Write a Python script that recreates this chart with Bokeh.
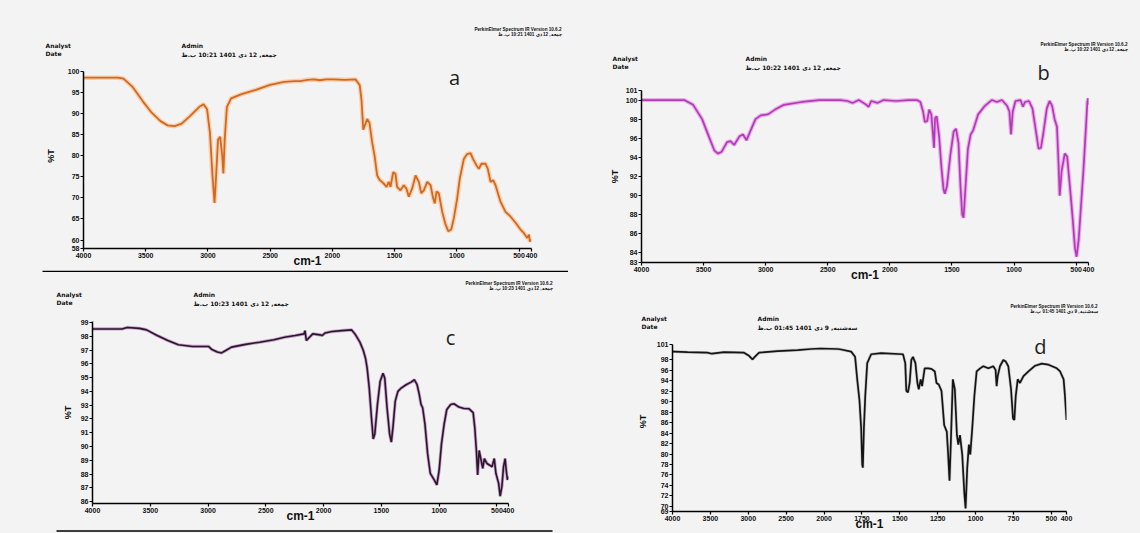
import numpy as np
from bokeh.plotting import figure
from bokeh.models import Range1d, FixedTicker, Label
from bokeh.layouts import row, column
from bokeh.embed import file_html
from bokeh.resources import INLINE

# ---------------- data (wavenumber cm-1, %T) ----------------
a_wn = [4000, 3830, 3722, 3679, 3608, 3523, 3452, 3381, 3324, 3268, 3211, 3140, 3069, 3035, 3007,
        2984, 2964, 2947, 2933, 2919, 2902, 2885, 2876, 2865, 2848, 2814, 2729, 2615, 2501, 2388,
        2300, 2256, 2200, 2149, 2100, 2050, 1988, 1900, 1814, 1780, 1766, 1752, 1742, 1720, 1702,
        1680, 1661, 1640, 1619, 1587, 1565, 1547, 1533, 1511, 1493, 1480, 1453, 1426, 1405, 1386,
        1359, 1332, 1305, 1286, 1265, 1238, 1211, 1190, 1177, 1163, 1145, 1118, 1091, 1069, 1045,
        1024, 997, 976, 944, 917, 890, 869, 842, 823, 802, 770, 751, 729, 708, 689, 649, 609, 569,
        528, 488, 462, 434, 420, 413, 405]
a_T = [98.5, 98.5, 98.5, 98.3, 96.4, 92.9, 90.2, 88.2, 87.2, 87.0, 87.6, 89.5, 91.6, 92.2, 91.0,
       85.5, 75.5, 68.8, 76.0, 83.8, 84.5, 80.0, 75.8, 84.0, 91.5, 93.6, 94.6, 95.6, 96.8, 97.5,
       97.7, 97.7, 98.0, 98.1, 97.9, 98.1, 98.1, 98.0, 98.1, 96.7, 93.2, 86.2, 87.0, 88.7, 87.8,
       83.1, 80.0, 75.3, 74.2, 73.4, 72.6, 73.8, 72.6, 76.1, 75.7, 72.6, 71.8, 73.0, 72.2, 70.3,
       72.2, 75.3, 73.8, 71.1, 71.8, 73.8, 73.0, 69.9, 68.7, 71.5, 71.1, 66.8, 63.7, 62.1, 62.5,
       65.2, 69.9, 74.6, 79.2, 80.4, 80.6, 79.2, 77.7, 76.9, 78.1, 78.1, 76.9, 73.8, 74.2, 73.0,
       69.1, 66.7, 65.6, 64.1, 62.5, 61.7, 60.5, 61.3, 59.6, 60.2]

b_wn = [4000, 3656, 3584, 3512, 3455, 3412, 3383, 3354, 3311, 3283, 3254, 3211, 3182, 3154, 3125,
        3082, 3039, 2982, 2924, 2853, 2709, 2566, 2400, 2340, 2300, 2250, 2200, 2170, 2150, 2100,
        2050, 1950, 1850, 1781, 1754, 1732, 1718, 1699, 1683, 1666, 1653, 1644, 1636, 1623, 1603,
        1584, 1568, 1557, 1540, 1513, 1486, 1467, 1447, 1431, 1417, 1406, 1390, 1371, 1349, 1330,
        1289, 1234, 1179, 1138, 1097, 1056, 1037, 1024, 1010, 988, 947, 928, 911, 879, 851, 824,
        802, 783, 764, 736, 714, 693, 673, 654, 641, 632, 616, 591, 572, 550, 528, 509, 496, 479,
        463, 441, 419, 409, 402, 400]
b_T = [100.0, 100.0, 99.5, 98.0, 96.1, 94.7, 94.4, 94.6, 95.6, 95.7, 95.3, 96.2, 96.4, 95.8, 96.7,
       98.0, 98.4, 98.5, 99.0, 99.5, 99.8, 100.0, 100.0, 99.9, 99.7, 100.0, 99.6, 99.3, 99.9, 99.7,
       100.0, 99.9, 100.0, 100.0, 99.8, 98.8, 97.7, 97.8, 99.0, 98.5, 96.5, 95.0, 98.1, 98.3, 96.2,
       92.9, 90.7, 90.2, 91.0, 94.2, 96.7, 97.0, 95.5, 91.0, 88.0, 87.7, 91.0, 94.9, 96.4, 96.8,
       98.5, 99.4, 100.0, 99.8, 100.0, 99.4, 98.8, 96.4, 98.8, 99.9, 100.0, 99.3, 99.8, 99.9, 99.1, 96.8,
       94.9, 95.0, 96.5, 99.1, 99.9, 99.4, 98.0, 97.2, 93.3, 90.0, 92.6, 94.4, 94.1, 91.0, 87.7, 84.5,
       83.6, 85.4, 88.4, 92.6, 97.5, 99.8, 100.2, 99.5]

c_wn = [4000, 3967, 3746, 3700, 3593, 3532, 3440, 3348, 3257, 3134, 2996, 2966, 2920, 2883, 2844,
        2797, 2675, 2553, 2430, 2339, 2246, 2170, 2161, 2149, 2094, 2032, 2014, 1986, 1928, 1843,
        1757, 1729, 1686, 1657, 1637, 1623, 1605, 1586, 1571, 1557, 1534, 1511, 1486, 1471, 1451,
        1429, 1414, 1400, 1380, 1357, 1329, 1286, 1243, 1214, 1191, 1172, 1157, 1143, 1123, 1100,
        1077, 1043, 1020, 1000, 980, 957, 934, 900, 872, 829, 786, 743, 706, 692, 678, 667, 654,
        637, 623, 609, 586, 563, 543, 523, 509, 486, 472, 457, 443, 429, 420, 409, 402]
c_T = [98.53, 98.53, 98.53, 98.64, 98.57, 98.46, 98.05, 97.69, 97.38, 97.26, 97.26, 97.03, 96.86,
       96.79, 96.98, 97.21, 97.41, 97.57, 97.74, 97.93, 98.05, 98.17, 98.4, 97.69, 98.17, 98.1,
       98.05, 98.24, 98.34, 98.41, 98.46, 98.17, 97.57, 96.98, 96.39, 95.67, 94.24, 92.1, 90.55,
       90.91, 93.05, 94.71, 95.31, 94.96, 92.81, 90.91, 90.31, 91.39, 93.29, 94.0, 94.24, 94.48,
       94.67, 94.84, 94.48, 93.76, 93.05, 92.81, 91.62, 89.48, 88.05, 87.57, 87.21, 88.29, 90.19,
       91.62, 92.69, 93.05, 93.1, 92.86, 92.76, 92.74, 92.46, 91.39, 89.71, 87.93, 89.71, 89.0,
       88.41, 89.12, 88.76, 88.64, 88.53, 89.12, 88.05, 87.34, 86.39, 87.1, 88.53, 89.12, 88.29,
       87.57, 87.83]

d_wn = [4000, 3983, 3800, 3540, 3480, 3320, 3056, 2990, 2944, 2914, 2857, 2613, 2348, 2172, 2050,
        1909, 1887, 1821, 1795, 1781, 1766, 1755, 1748, 1744, 1737, 1728, 1715, 1689, 1623, 1479,
        1464, 1457, 1446, 1435, 1424, 1413, 1397, 1384, 1375, 1362, 1353, 1336, 1313, 1291, 1269,
        1258, 1243, 1225, 1207, 1190, 1181, 1172, 1163, 1150, 1137, 1123, 1114, 1103, 1088, 1074,
        1066, 1055, 1044, 1035, 1022, 1008, 993, 970, 949, 916, 883, 868, 861, 854, 839, 817, 801,
        784, 766, 753, 744, 735, 722, 707, 684, 651, 607, 563, 519, 464, 442, 419, 410, 400]
d_T = [99.6, 99.6, 99.5, 99.4, 99.2, 99.5, 99.4, 98.8, 98.1, 98.6, 99.4, 99.7, 99.9, 100.1, 100.2,
       100.1, 100.0, 99.6, 98.6, 94.3, 90.2, 84.9, 78.0, 77.4, 84.9, 91.1, 97.4, 99.1, 99.3, 99.1,
       97.4, 92.1, 91.8, 93.6, 98.0, 98.6, 97.4, 93.6, 92.4, 94.3, 93.0, 96.4, 96.4, 96.3, 95.8,
       93.6, 93.3, 92.1, 85.5, 84.3, 79.9, 74.9, 82.4, 94.3, 92.4, 83.6, 81.8, 83.6, 79.9, 72.4,
       69.6, 77.4, 81.8, 79.9, 84.9, 91.1, 95.8, 96.4, 96.8, 96.4, 96.8, 96.1, 93.0, 94.9, 96.8,
       98.0, 97.7, 96.8, 92.4, 86.8, 86.5, 91.1, 94.3, 93.6, 94.9, 95.8, 96.9, 97.3, 97.1, 96.4,
       95.8, 94.3, 91.1, 86.5]

x_ticks = [4000, 3500, 3000, 2500, 2000, 1500, 1000, 500, 400]
a_yticks = [58, 60, 65, 70, 75, 80, 85, 90, 95, 100]
b_yticks = [83, 84, 86, 88, 90, 92, 94, 96, 98, 100, 101]
c_yticks = list(range(86, 100))
d_yticks = [69, 70, 72, 74, 76, 78, 80, 82, 84, 86, 88, 90, 92, 94, 96, 98, 101]
d_xticks_wn = [4000, 3500, 3000, 2500, 2000, 1750, 1500, 1250, 1000, 750, 500, 400]

date_a = "جمعه, 12 دی 1401 10:21 ب.ظ"
date_b = "جمعه, 12 دی 1401 10:22 ب.ظ"
date_c = "جمعه, 12 دی 1401 10:23 ب.ظ"
date_d = "سه‌شنبه, 9 دی 1401 01:45 ب.ظ"
version = "PerkinElmer Spectrum IR Version 10.6.2"

BG = "#f3f3f3"
HEAD_FONT = "DejaVu Sans"


def d_axis(w):
    w = np.asarray(w, dtype=float)
    return np.where(w > 2000, 2000 + (w - 2000) / 2.0, w)


def spec_fig(w, h, left, right, top, bottom, xr, yr, yticks, xticks, ylab_standoff, ybounds=None):
    p = figure(width=w, height=h, output_backend="svg", toolbar_location=None,
               x_range=Range1d(*xr), y_range=Range1d(*yr),
               min_border_left=left, min_border_right=right,
               min_border_top=top, min_border_bottom=bottom, frame_align=False)
    p.background_fill_color = BG
    p.border_fill_color = BG
    p.outline_line_color = None
    p.grid.visible = False
    for ax in (p.xaxis[0], p.yaxis[0]):
        ax.axis_line_color = "black"
        ax.axis_line_width = 1.5
        ax.major_tick_line_color = "black"
        ax.major_tick_line_width = 1.2
        ax.major_tick_in = 0
        ax.major_tick_out = 3
        ax.minor_tick_line_color = None
        ax.major_label_text_font = "Liberation Sans"
        ax.major_label_text_font_style = "bold"
        ax.major_label_text_font_size = "7px"
        ax.major_label_text_color = "#111111"
        ax.major_label_standoff = 1
        ax.axis_label_text_font = "Liberation Sans"
        ax.axis_label_text_font_style = "bold"
        ax.axis_label_text_color = "#111111"
    p.xaxis[0].ticker = FixedTicker(ticks=xticks)
    p.yaxis[0].ticker = FixedTicker(ticks=yticks)
    if ybounds is not None:
        p.yaxis[0].bounds = ybounds
    p.xaxis[0].axis_label = "cm-1"
    p.xaxis[0].axis_label_text_font_size = "12px"
    p.xaxis[0].axis_label_standoff = -7
    p.yaxis[0].axis_label = "%T"
    p.yaxis[0].axis_label_text_font_size = "9px"
    p.yaxis[0].axis_label_standoff = ylab_standoff
    return p


def blank_fig(w, h, x0, y0):
    """Strip of the page between plots; data units equal page pixels."""
    p = figure(width=w, height=h, output_backend="svg", toolbar_location=None,
               x_range=Range1d(x0, x0 + w), y_range=Range1d(y0 + h, y0),
               x_axis_type=None, y_axis_type=None, frame_align=False,
               min_border_left=0, min_border_right=0, min_border_top=0, min_border_bottom=0)
    p.background_fill_color = BG
    p.border_fill_color = BG
    p.outline_line_color = None
    return p


def header(p, ax_x, ax_y, ad_x, ad_y, tr_x, tr_y, date1, date2):
    kw = dict(text_font=HEAD_FONT, text_font_style="bold", text_font_size="6px",
              text_color="#111111", text_baseline="middle")
    p.add_layout(Label(x=ax_x, y=ax_y, text="Analyst", **kw))
    p.add_layout(Label(x=ax_x, y=ax_y + 7.5, text="Date", **kw))
    p.add_layout(Label(x=ad_x, y=ad_y, text="Admin", **kw))
    p.add_layout(Label(x=ad_x, y=ad_y + 8.5, text=date1, **kw))
    small = dict(kw, text_font="Liberation Sans", text_font_size="4.6px")
    p.add_layout(Label(x=tr_x, y=tr_y, text=version, text_align="right", **small))
    p.add_layout(Label(x=tr_x, y=tr_y + 5, text=date2, text_align="right", **small))


def letter(p, x, y, t):
    p.add_layout(Label(x=x, y=y, text=t, text_font="Open Sans", text_font_size="20px",
                       text_color="#1e1e1e", text_align="center", text_baseline="middle"))


# ================= column 1: panels a and c (x 0..568) =================
a_head = blank_fig(568, 63, 0, 0)
header(a_head, 45, 45, 181, 45, 561, 29, date_a, date_a)

# frame 63..251 px; 100 %T sits at 71 px, the axis stops there
pa = spec_fig(568, 207, 83, 37, 0, 19, (4000, 400), (58, 101.87), a_yticks, x_ticks, 9,
              ybounds=(58, 100))
pa.line(a_wn, a_T, line_color="#f7c7a0", line_width=4.5, line_alpha=0.8)
pa.line(a_wn, a_T, line_color="#d2691f", line_width=1.8)
letter(pa, 1019, 98.45, "a")

ac_mid = blank_fig(568, 44, 0, 270)
ac_mid.line([42, 568], [270.8, 270.8], line_color="black", line_width=1.5)
header(ac_mid, 56, 294, 193, 294, 552, 283, date_c, date_c)

pc = spec_fig(568, 211, 92, 60, 7, 19, (4000, 400), (85.86, 99.07), c_yticks, x_ticks, 5)
pc.line(c_wn, c_T, line_color="#b58cb7", line_width=3.2, line_alpha=0.8)
pc.line(c_wn, c_T, line_color="#2e1431", line_width=1.6)
letter(pc, 902, 97.9, "c")

c_foot = blank_fig(568, 8, 0, 525)
c_foot.line([56, 552], [526.5, 526.5], line_color="black", line_width=1.5)

# ================= column 2: panels b and d (x 568..1140) =================
b_head = blank_fig(572, 86, 568, 0)
header(b_head, 612, 58, 745, 58, 1127, 44, date_b, date_b)
letter(b_head, 1043, 71.5, "b")

pb = spec_fig(572, 204, 73, 52, 4, 28, (4000, 400), (83, 101), b_yticks, x_ticks, 3)
pb.line(b_wn, b_T, line_color="#e79be9", line_width=4, line_alpha=0.8)
pb.line(b_wn, b_T, line_color="#b23ab6", line_width=1.7)

d_mid = blank_fig(572, 41, 568, 290)
header(d_mid, 641, 318, 757, 318, 1097, 306, date_d, date_d)

d_u = d_axis(d_wn)
d_tick_u = [float(v) for v in d_axis(d_xticks_wn)]
# frame 331..514 px; 101 %T sits at 344 px, the axis stops there
pd_ = spec_fig(572, 202, 104, 74, 0, 19, (3000, 400), (69, 103.45), d_yticks, d_tick_u, 6,
               ybounds=(69, 101))
pd_.xaxis[0].major_label_overrides = {u: str(w) for u, w in zip(d_tick_u, d_xticks_wn)}
pd_.line(d_u, d_T, line_color="#9a9a9a", line_width=3, line_alpha=0.5)
pd_.line(d_u, d_T, line_color="#141414", line_width=1.7)
letter(pd_, 572, 100.6, "d")

col1 = column(a_head, pa, ac_mid, pc, c_foot, spacing=0, styles={"background-color": BG})
col2 = column(b_head, pb, d_mid, pd_, spacing=0, styles={"background-color": BG})
layout = row(col1, col2, spacing=0, styles={"background-color": BG})
open("out.html", "w").write(file_html(layout, INLINE))
